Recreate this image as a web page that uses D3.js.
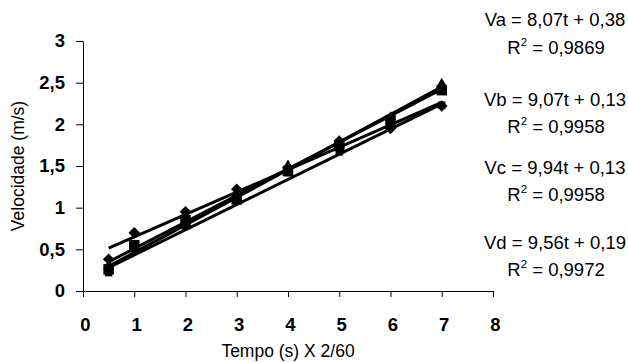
<!DOCTYPE html>
<html>
<head>
<meta charset="utf-8">
<script src="https://cdn.jsdelivr.net/npm/d3@7"></script>
<style>
body { margin: 0; background: #fff; }
svg { font-family: Arial, "Liberation Sans", sans-serif; }
</style>
</head>
<body>
<div id="chart"></div>
<script>
// x positions (Tempo (s) X 2/60)
var tempo = [0.5, 1, 2, 3, 4, 5, 6, 7];

var va = [0.38, 0.70, 0.95, 1.22, 1.48, 1.80, 1.95, 2.22];
var vb = [0.22, 0.48, 0.78, 1.08, 1.42, 1.67, 1.97, 2.23];
var vc = [0.30, 0.52, 0.82, 1.12, 1.50, 1.76, 2.08, 2.48];
var vd = [0.26, 0.55, 0.85, 1.10, 1.44, 1.74, 2.05, 2.41];

// trendline equations as printed on the chart (V = a t + b, t = x * 2/60)
var names = ['Va', 'Vb', 'Vc', 'Vd'];
var slopes = [8.07, 9.07, 9.94, 9.56];
var intercepts = [0.38, 0.13, 0.13, 0.19];
var rSquared = ['0,9869', '0,9958', '0,9958', '0,9972'];
var markers = ['diamond', 'smallSquare', 'triangle', 'bigSquare'];

var xTicks = [0, 1, 2, 3, 4, 5, 6, 7, 8];
var yTicks = [0, 0.5, 1, 1.5, 2, 2.5, 3];

var width = 628;
var height = 362;

var plotLeft = 83;
var plotRight = 493;
var plotTop = 41;
var plotBottom = 291;

var locale = d3.formatLocale({ decimal: ',', thousands: '.', grouping: [3], currency: ['R$', ''] });
var fmt = locale.format('~g');

var svg = d3.select('#chart').append('svg')
    .attr('width', width)
    .attr('height', height);

var x = d3.scaleLinear().domain([0, 8]).range([plotLeft, plotRight]);
var y = d3.scaleLinear().domain([0, 3]).range([plotBottom, plotTop]);

// axes
var xAxis = svg.append('g')
    .attr('transform', 'translate(0,' + plotBottom + ')')
    .call(d3.axisBottom(x).tickValues(xTicks).tickSize(6).tickSizeOuter(0).tickPadding(21).tickFormat(fmt));

var yAxis = svg.append('g')
    .attr('transform', 'translate(' + plotLeft + ',0)')
    .call(d3.axisLeft(y).tickValues(yTicks).tickSize(7).tickSizeOuter(0).tickPadding(11).tickFormat(fmt));

[xAxis, yAxis].forEach(function (ax) {
    ax.select('.domain').attr('stroke', '#000').attr('stroke-width', 1);
    ax.selectAll('.tick line').attr('stroke', '#000');
    ax.selectAll('.tick text')
        .attr('fill', '#000')
        .attr('font-family', 'Arial, "Liberation Sans", sans-serif')
        .attr('font-size', '18.5px')
        .attr('font-weight', 'bold');
});
xAxis.selectAll('.tick text').attr('dx', 2);

// axis titles
svg.append('text')
    .attr('x', 288)
    .attr('y', 357)
    .attr('text-anchor', 'middle')
    .attr('font-size', '17.5px')
    .text('Tempo (s) X 2/60');

svg.append('text')
    .attr('transform', 'translate(24,166) rotate(-90)')
    .attr('text-anchor', 'middle')
    .attr('font-size', '17.5px')
    .text('Velocidade (m/s)');

// trendlines
var trendGroup = svg.append('g');
var xMin = d3.min(tempo), xMax = d3.max(tempo);
slopes.forEach(function (a, i) {
    var b = intercepts[i];
    trendGroup.append('line')
        .attr('x1', x(xMin))
        .attr('y1', y(a * xMin * 2 / 60 + b))
        .attr('x2', x(xMax))
        .attr('y2', y(a * xMax * 2 / 60 + b))
        .attr('stroke', '#000')
        .attr('stroke-width', 3);
});

// markers
var series = [va, vb, vc, vd];
var symbolFor = {
    diamond: d3.symbol().type(d3.symbolDiamond2).size(85),
    smallSquare: d3.symbol().type(d3.symbolSquare2).size(70),
    triangle: d3.symbol().type(d3.symbolTriangle2).size(90),
    bigSquare: d3.symbol().type(d3.symbolSquare2).size(140)
};

series.forEach(function (values, i) {
    svg.append('g').selectAll('path')
        .data(values)
        .enter()
        .append('path')
        .attr('transform', function (d, j) {
            return 'translate(' + x(tempo[j]) + ',' + y(d) + ')';
        })
        .attr('d', symbolFor[markers[i]])
        .attr('fill', '#000');
});

// equation labels
var eqY = [26, 54, 106, 133, 174, 201, 249, 276];
var eqGroup = svg.append('g').attr('font-size', '18.5px').attr('text-anchor', 'middle');
names.forEach(function (name, i) {
    eqGroup.append('text')
        .attr('x', 555)
        .attr('y', eqY[i * 2])
        .text(name + ' = ' + fmt(slopes[i]) + 't + ' + fmt(intercepts[i]));

    var r = eqGroup.append('text')
        .attr('x', 556)
        .attr('y', eqY[i * 2 + 1]);
    r.append('tspan').text('R');
    r.append('tspan').attr('font-size', '11.5px').attr('dy', -8).text('2');
    r.append('tspan').attr('dy', 8).text(' = ' + rSquared[i]);
});
</script>
</body>
</html>
